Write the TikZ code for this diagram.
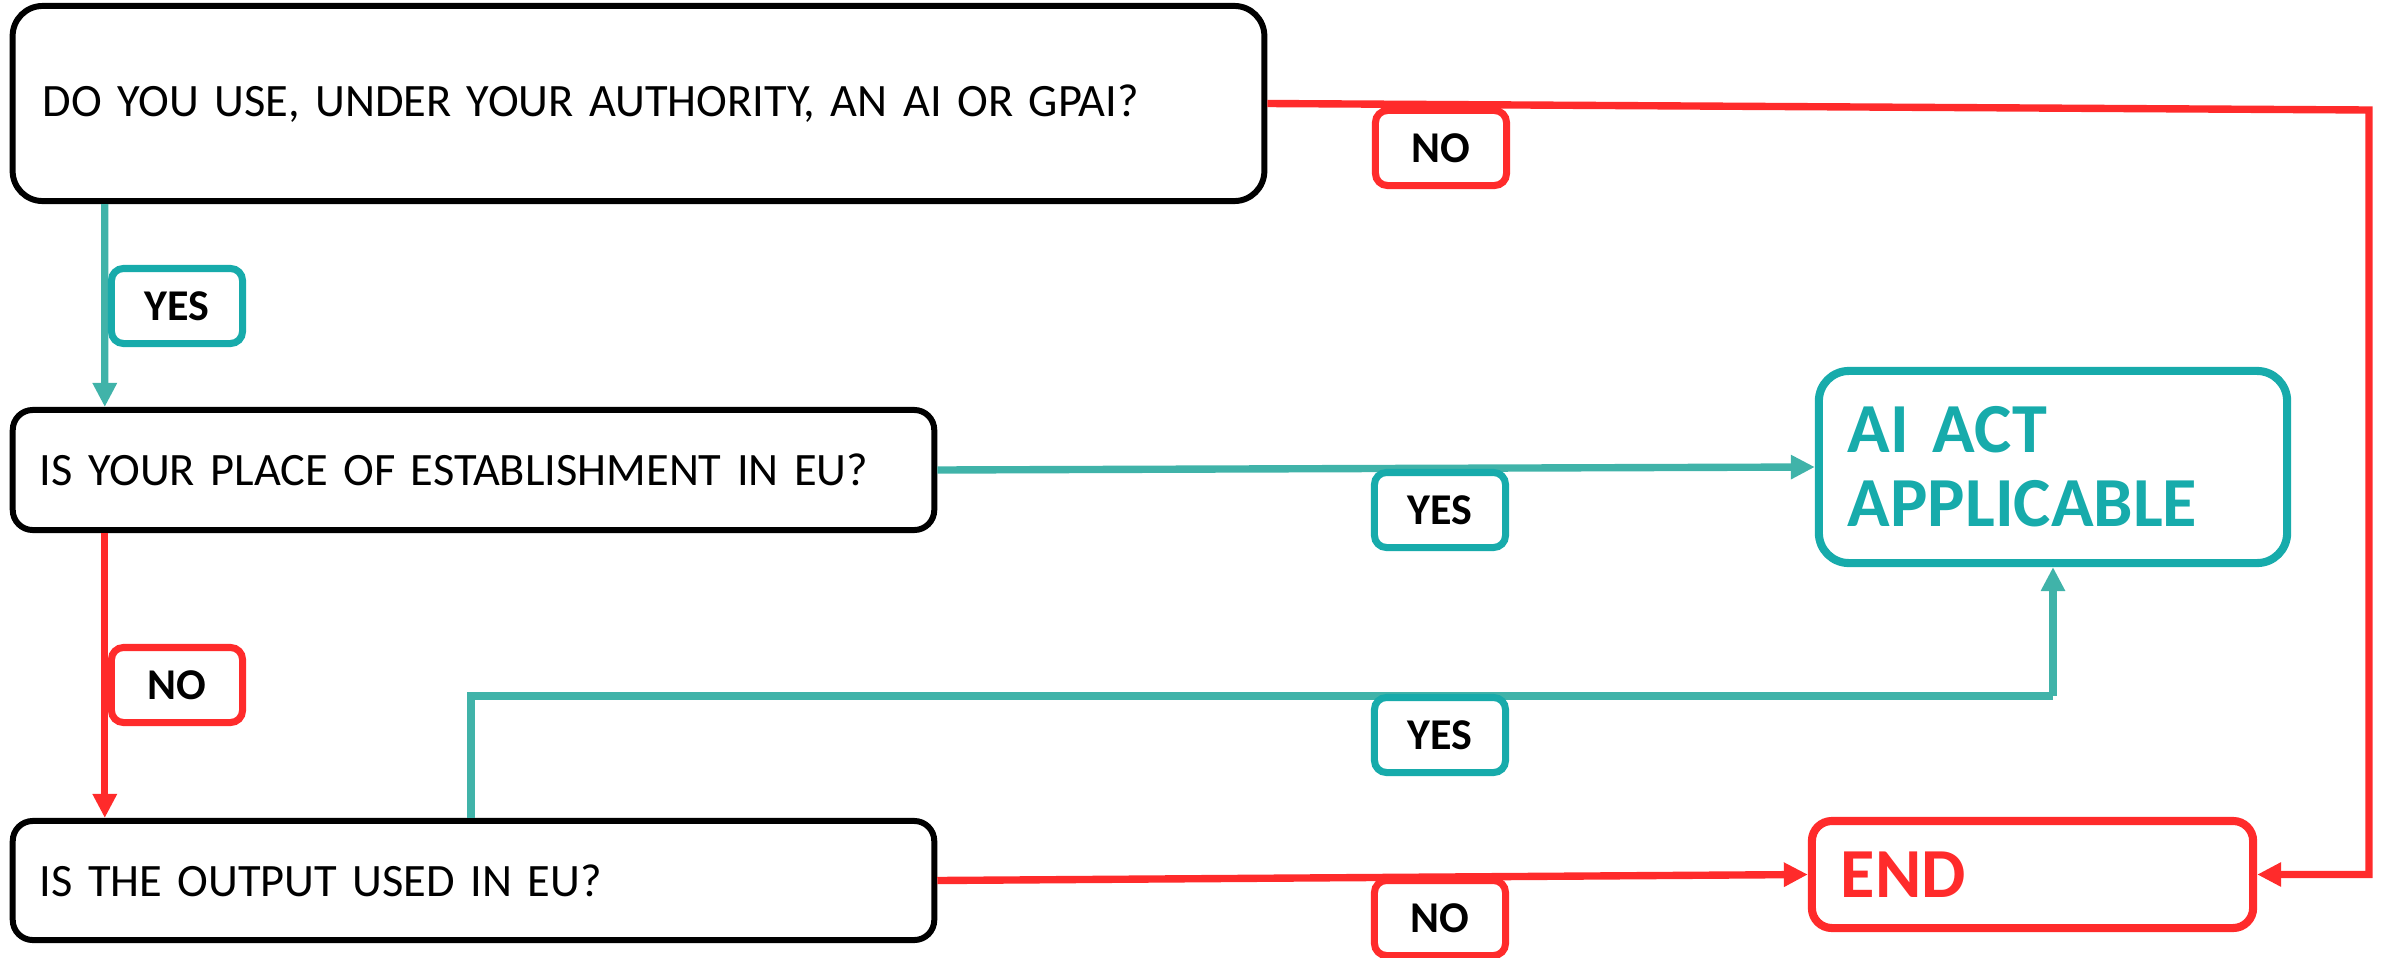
\documentclass[tikz,border=0pt]{standalone}
\usepackage{fontspec}
\setmainfont{Carlito}
\usepackage{xcolor}
\usepackage{tikz}
\usetikzlibrary{arrows.meta, positioning}

\definecolor{tealline}{HTML}{40B3A9}
\definecolor{tealbox}{HTML}{17ABAB}
\definecolor{redline}{HTML}{FF2B2B}
\newcommand{\qtextfont}{\fontsize{13.2}{15}\selectfont\spaceskip=0.21em plus 0.1em\relax}

\begin{document}
\begin{tikzpicture}[x=0.01cm,y=-0.01cm,-{Triangle[length=0.24cm,width=0.23cm]},line width=2.1pt]
			\tikzstyle{question}=[draw=black,line width=1.7pt,rounded corners=0.2cm,align=left,font=\qtextfont,minimum width=9.21cm,inner xsep=0.27cm,text width=8.67cm]
			\tikzstyle{result}=[line width=2.3pt,rounded corners=0.3cm,align=left,font=\bfseries\fontsize{20}{21}\selectfont,inner xsep=0.29cm]
			\tikzstyle{answer}=[fill=white,line width=2pt,rounded corners=0.12cm,font=\bfseries\fontsize{12.5}{14}\selectfont,minimum width=1.31cm,minimum height=0.75cm]
			\tikzstyle{yes}=[answer,draw=tealbox]
			\tikzstyle{no}=[answer,draw=redline]
			
			\useasboundingbox (0,0) rectangle (2381,957);
			
			\node[question, rounded corners=0.3cm, minimum width=12.51cm, text width=11.91cm, inner xsep=0.30cm, minimum height=1.95cm] (Q1) at (638.5,103.5) {DO YOU USE, UNDER YOUR AUTHORITY, AN AI OR GPAI?};
			\node[question, minimum height=1.20cm] (Q2) at (473.5,470) {IS YOUR PLACE OF ESTABLISHMENT IN EU?};
			\node[question, minimum height=1.19cm] (Q3) at (473.5,880.5) {IS THE OUTPUT USED IN EU?};
			\node[result, draw=tealbox, text=tealbox, minimum width=4.68cm, text width=4.10cm, minimum height=1.92cm] (AI) at (2053,467) {AI ACT\\APPLICABLE};
			\node[result, draw=redline, text=redline, rounded corners=0.2cm, minimum width=4.39cm, text width=3.83cm, minimum height=1.07cm] (END) at (2032.5,874.5) {END};
			
			\coordinate (turn) at (2369,110);
			
			\draw[tealline] ([xshift=0.95cm]Q1.south west) -- ([xshift=0.95cm]Q2.north west);
			\draw[redline] (Q1.east) -- (turn) |- (END.east);
			\draw[tealline] (Q2.east) -- (AI.west);
			\draw[redline] ([xshift=0.95cm]Q2.south west) -- ([xshift=0.95cm]Q3.north west);
			\draw[tealline, -] ([xshift=4.61cm]Q3.north west) |- ([yshift=-1.29cm]AI.south);
			\draw[tealline] ([yshift=-1.29cm]AI.south) -- (AI.south);
			\draw[redline] (Q3.east) -- (END.west);
			
			\node[no] (noA) at (1441,148) {NO};
			\node[yes] (yesA) at (177,306) {YES};
			\node[yes] (yesB) at (1440,510) {YES};
			\node[no] (noB) at (177,685) {NO};
			\node[yes] (yesC) at (1440,735) {YES};
			\node[no] (noC) at (1440,918) {NO};
		\end{tikzpicture}
\end{document}
